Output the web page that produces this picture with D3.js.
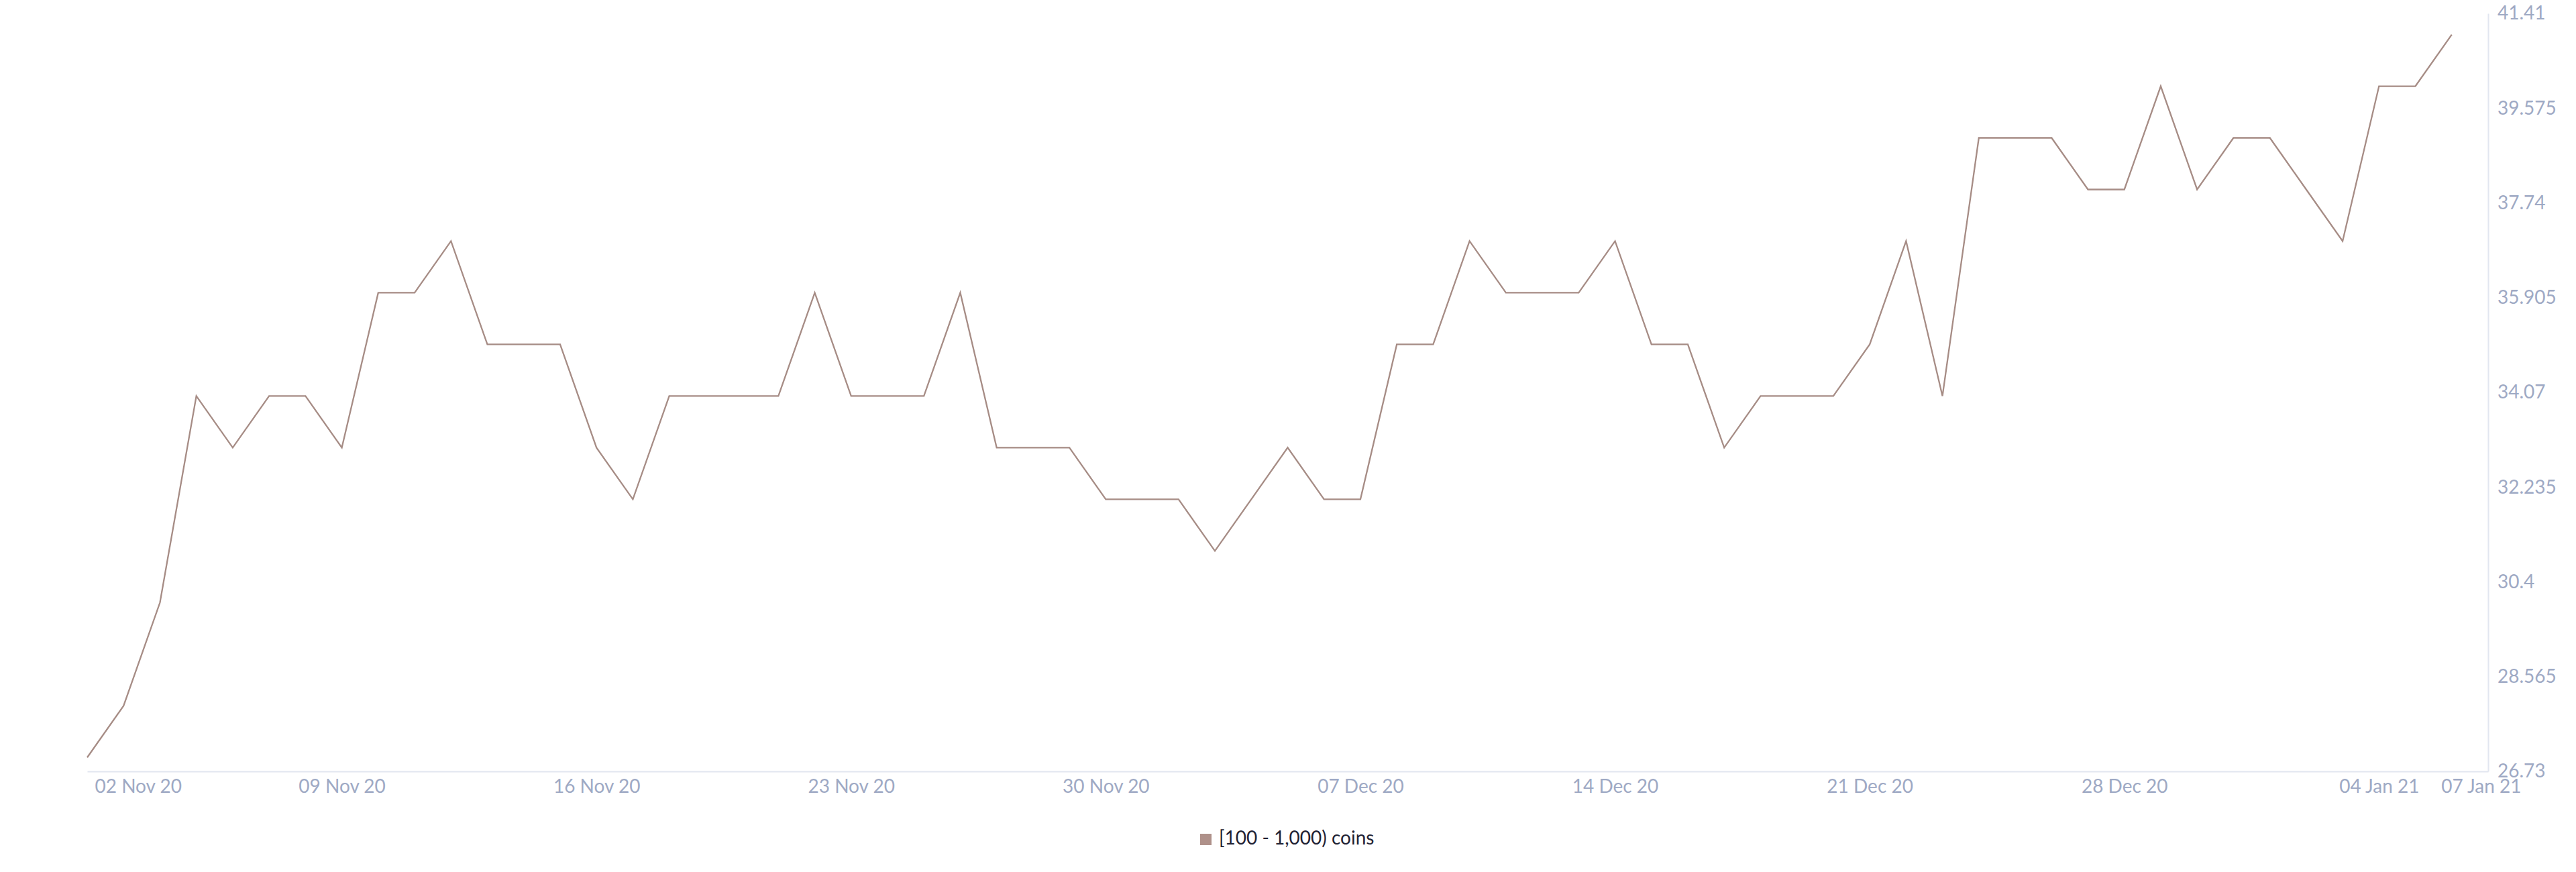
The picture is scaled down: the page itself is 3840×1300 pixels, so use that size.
<!DOCTYPE html>
<html>
<head>
<meta charset="utf-8">
<script src="https://cdn.jsdelivr.net/npm/d3@7"></script>
<style>
  html, body { margin: 0; padding: 0; background: #ffffff; }
  svg { display: block; }
</style>
</head>
<body>
<svg id="chart" width="3840" height="1300"></svg>
<script>
// ---- data ----
const startDate = "2020-11-02";
const endDomainDate = "2021-01-07";
const seriesName = "[100 - 1,000) coins";
const seriesValues = [
  27, 28, 30, 34, 33, 34, 34, 33, 36, 36, 37, 35, 35, 35, 33, 32, 34, 34, 34, 34, 36, 34,
  34, 34, 36, 33, 33, 33, 32, 32, 32, 31, 32, 33, 32, 32, 35, 35, 37, 36, 36, 36, 37, 35,
  35, 33, 34, 34, 34, 35, 37, 34, 39, 39, 39, 38, 38, 40, 38, 39, 39, 38, 37, 40, 40, 41
];
const xTickLabels = ["02 Nov 20", "09 Nov 20", "16 Nov 20", "23 Nov 20", "30 Nov 20", "07 Dec 20",
  "14 Dec 20", "21 Dec 20", "28 Dec 20", "04 Jan 21", "07 Jan 21"];
const yTickLabels = ["26.73", "28.565", "30.4", "32.235", "34.07", "35.905", "37.74", "39.575", "41.41"];

// ---- build ----
(function () {
  const parseDay = d3.utcParse("%Y-%m-%d");
  const parseTick = d3.utcParse("%d %b %y");
  const fmtTick = d3.utcFormat("%d %b %y");
  const t0 = parseDay(startDate);
  const data = seriesValues.map((v, i) => ({ date: d3.utcDay.offset(t0, i), value: v }));
  const xTicks = xTickLabels.map(s => parseTick(s));
  const yTicks = yTickLabels.map(Number);

  const svg = d3.select("#chart");
  const mLeft = 130, mRight = 3709, mTop = 20, mBottom = 1150;
  const font = "Lato, 'Open Sans', sans-serif";
  const tickColor = "#9ea9c4";
  const axisColor = "#e2e6f0";
  const lineColor = "#a68c85";

  const x = d3.scaleUtc().domain([t0, parseDay(endDomainDate)]).range([mLeft, mRight]);
  const y = d3.scaleLinear().domain([yTicks[0], yTicks[yTicks.length - 1]]).range([mBottom, mTop]);

  // x axis
  const xAxis = svg.append("g")
    .attr("transform", `translate(0,${mBottom})`)
    .call(d3.axisBottom(x).tickValues(xTicks).tickFormat(fmtTick).tickSize(0));
  xAxis.select(".domain").attr("stroke", axisColor).attr("stroke-width", 2);
  xAxis.selectAll(".tick text")
    .attr("y", 32).attr("dy", 0)
    .attr("fill", tickColor)
    .style("font-family", font).style("font-size", "28px");
  xAxis.selectAll(".tick").filter((d, i) => i === 0).select("text")
    .attr("text-anchor", "start").attr("x", 11);
  xAxis.selectAll(".tick").filter((d, i) => i === xTicks.length - 1).select("text")
    .attr("text-anchor", "end").attr("x", 49);

  // y axis
  const yAxis = svg.append("g")
    .attr("transform", `translate(${mRight},0)`)
    .call(d3.axisRight(y).tickValues(yTicks).tickFormat((d, i) => yTickLabels[i]).tickSize(0).tickPadding(14));
  yAxis.select(".domain").attr("stroke", axisColor).attr("stroke-width", 2);
  yAxis.selectAll(".tick text")
    .attr("fill", tickColor)
    .style("font-family", font).style("font-size", "28px");

  // line
  const line = d3.line().x(d => x(d.date)).y(d => y(d.value));
  svg.append("path")
    .datum(data)
    .attr("fill", "none")
    .attr("stroke", lineColor)
    .attr("stroke-width", 2.3)
    .attr("stroke-linejoin", "miter")
    .attr("d", line);

  // legend
  const legend = svg.append("g").attr("transform", "translate(1789,1243)");
  legend.append("rect").attr("width", 17).attr("height", 17).attr("fill", "#af918a");
  legend.append("text")
    .attr("x", 28).attr("y", 16)
    .attr("fill", "#1f2233")
    .style("font-family", font).style("font-size", "28px")
    .text(seriesName);
})();
</script>
</body>
</html>
